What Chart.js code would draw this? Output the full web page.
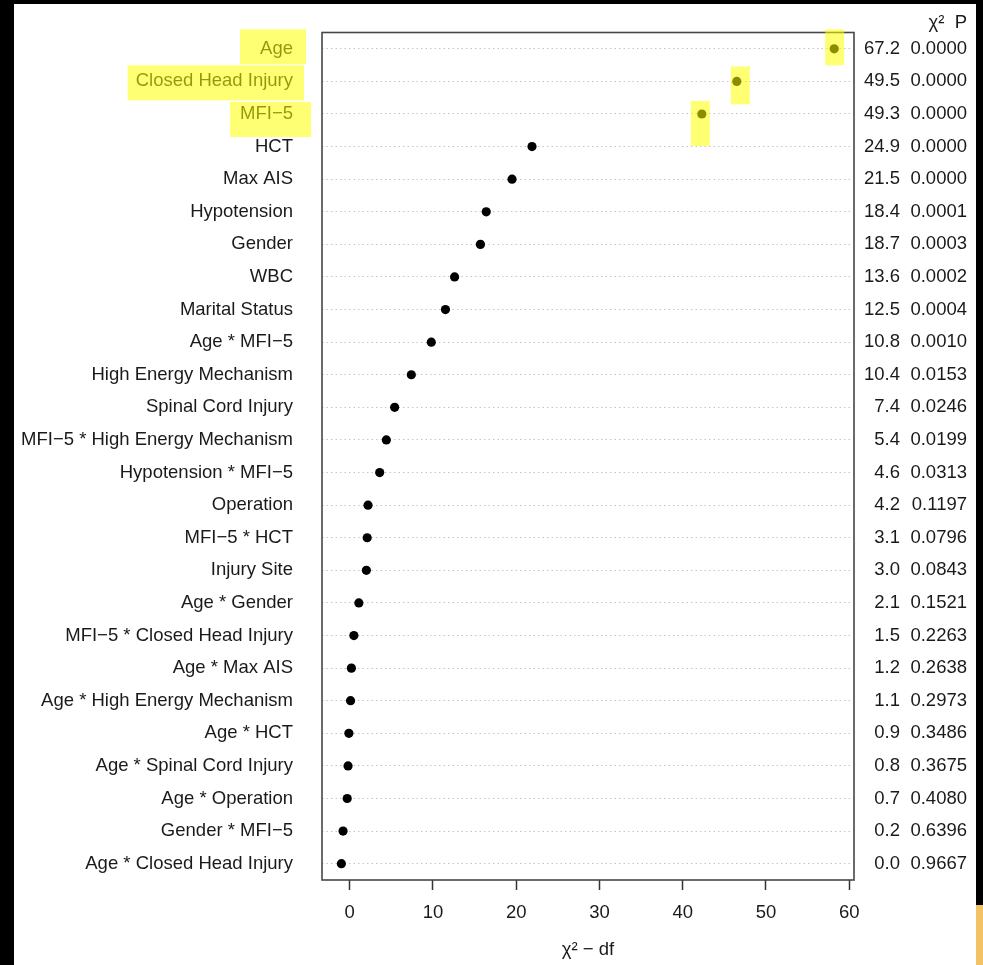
<!DOCTYPE html>
<html>
<head>
<meta charset="utf-8">
<script src="https://cdn.jsdelivr.net/npm/chart.js@4/dist/chart.umd.min.js"></script>
<style>
  html, body { margin: 0; padding: 0; background: #000; width: 983px; height: 965px; overflow: hidden; }
  #chart { position: absolute; left: 14px; top: 4px; background: #fff; }
  #corner { position: absolute; left: 976px; top: 905px; width: 7px; height: 60px; background: #f3c264; }
</style>
</head>
<body>
<canvas id="chart" width="962" height="961"></canvas>
<div id="corner"></div>
<script>
const categories = [
  'Age', 'Closed Head Injury', 'MFI−5', 'HCT', 'Max AIS', 'Hypotension', 'Gender', 'WBC',
  'Marital Status', 'Age * MFI−5', 'High Energy Mechanism', 'Spinal Cord Injury',
  'MFI−5 * High Energy Mechanism', 'Hypotension * MFI−5', 'Operation', 'MFI−5 * HCT',
  'Injury Site', 'Age * Gender', 'MFI−5 * Closed Head Injury', 'Age * Max AIS',
  'Age * High Energy Mechanism', 'Age * HCT', 'Age * Spinal Cord Injury', 'Age * Operation',
  'Gender * MFI−5', 'Age * Closed Head Injury'
];
const chiMinusDf = [58.2, 46.5, 42.3, 21.9, 19.5, 16.4, 15.7, 12.6, 11.5, 9.8, 7.4, 5.4, 4.4,
  3.6, 2.2, 2.1, 2.0, 1.1, 0.5, 0.2, 0.1, -0.1, -0.2, -0.3, -0.8, -1.0];
const chiSq = ['67.2', '49.5', '49.3', '24.9', '21.5', '18.4', '18.7', '13.6', '12.5', '10.8',
  '10.4', '7.4', '5.4', '4.6', '4.2', '3.1', '3.0', '2.1', '1.5', '1.2', '1.1', '0.9', '0.8',
  '0.7', '0.2', '0.0'];
const pValues = ['0.0000', '0.0000', '0.0000', '0.0000', '0.0000', '0.0001', '0.0003', '0.0002',
  '0.0004', '0.0010', '0.0153', '0.0246', '0.0199', '0.0313', '0.1197', '0.0796', '0.0843',
  '0.1521', '0.2263', '0.2638', '0.2973', '0.3486', '0.3675', '0.4080', '0.6396', '0.9667'];
const xTicks = [0, 10, 20, 30, 40, 50, 60];
const highlighted = ['Age', 'Closed Head Injury', 'MFI−5'];

// hand-drawn marker boxes, offsets relative to label text / point
const markerBoxes = {
  'Age':                { padL: 20, padR: 13, top: -19.5, h: 35, ptL: -9,  ptR: 10, ptTop: -19.5, ptH: 36 },
  'Closed Head Injury': { padL: 8,  padR: 11, top: -16,   h: 35, ptL: -6,  ptR: 13, ptTop: -15,   ptH: 38 },
  'MFI−5':              { padL: 10, padR: 18, top: -12,   h: 35, ptL: -11, ptR: 8,  ptTop: -13,   ptH: 45 }
};

const ink = '#1a1a1a';
const font = { family: "'Liberation Sans', Arial, sans-serif", size: 18.5 };
const labelPad = 29;

Chart.defaults.font.family = font.family;
Chart.defaults.font.size = font.size;
Chart.defaults.color = ink;

// fixed box widths, and no extra room for half tick labels above/below
const fixWidth = w => s => { s.width = w; s.paddingTop = 0; s.paddingBottom = 0; };

const frameAndMarker = {
  id: 'frameAndMarker',
  afterDraw(chart) {
    const { ctx, chartArea: a, scales } = chart;
    ctx.save();
    ctx.strokeStyle = '#474747';
    ctx.lineWidth = 1.6;
    ctx.strokeRect(a.left, a.top, a.right - a.left, a.bottom - a.top);

    ctx.font = font.size + 'px ' + font.family;
    ctx.fillStyle = 'rgba(255, 255, 0, 0.55)';
    highlighted.forEach(name => {
      const i = categories.indexOf(name);
      const b = markerBoxes[name];
      const yc = scales.y.getPixelForValue(i);
      const w = ctx.measureText(name).width;
      const textRight = scales.y.right - labelPad;
      ctx.fillRect(textRight - w - b.padL, yc + b.top, w + b.padL + b.padR, b.h);
      const px = scales.x.getPixelForValue(chiMinusDf[i]);
      ctx.fillRect(px + b.ptL, yc + b.ptTop, b.ptR - b.ptL, b.ptH);
    });
    ctx.restore();
  }
};

new Chart(document.getElementById('chart'), {
  type: 'line',
  data: {
    labels: categories,
    datasets: [{
      data: chiMinusDf,
      xAxisID: 'x',
      yAxisID: 'y',
      showLine: false,
      pointRadius: 4.6,
      pointBackgroundColor: '#000',
      pointBorderWidth: 0
    }]
  },
  options: {
    indexAxis: 'y',
    responsive: false,
    animation: false,
    layout: { padding: { left: 0, right: 9, top: 0, bottom: 0 } },
    plugins: {
      legend: { display: false },
      tooltip: { enabled: false },
      title: {
        display: true,
        text: 'χ²  P',
        align: 'end',
        color: ink,
        font: { size: 18.5, weight: 'normal', lineHeight: 1 },
        padding: { top: 10, bottom: 0 }
      }
    },
    scales: {
      x: {
        type: 'linear',
        position: 'bottom',
        min: -3.33,
        max: 60.58,
        afterBuildTicks: s => { s.ticks = xTicks.map(v => ({ value: v })); },
        afterFit: s => { s.height = 85; },
        grid: { drawOnChartArea: false, drawTicks: true, tickLength: 10, tickColor: '#333', tickWidth: 1.5 },
        border: { display: false },
        ticks: { padding: 12, color: ink, maxRotation: 0 },
        title: { display: true, text: 'χ² − df', color: ink, font: { size: 18.5 }, padding: { top: 0, bottom: 4 } }
      },
      y: {
        type: 'category',
        position: 'left',
        offset: true,
        afterFit: fixWidth(308),
        grid: { offset: false, drawTicks: false, color: '#c4c4c4', lineWidth: 1 },
        border: { display: false, dash: [1.5, 3] },
        ticks: { autoSkip: false, padding: labelPad, color: ink }
      },
      y2: {
        type: 'category',
        axis: 'y',
        position: 'right',
        weight: 0,
        labels: chiSq,
        offset: true,
        afterFit: fixWidth(46),
        grid: { display: false },
        border: { display: false },
        ticks: { autoSkip: false, padding: 2, crossAlign: 'far', color: ink }
      },
      y3: {
        type: 'category',
        axis: 'y',
        position: 'right',
        weight: 1,
        labels: pValues,
        offset: true,
        afterFit: fixWidth(67),
        grid: { display: false },
        border: { display: false },
        ticks: { autoSkip: false, padding: 6, crossAlign: 'far', color: ink }
      }
    }
  },
  plugins: [frameAndMarker]
});
</script>
</body>
</html>
